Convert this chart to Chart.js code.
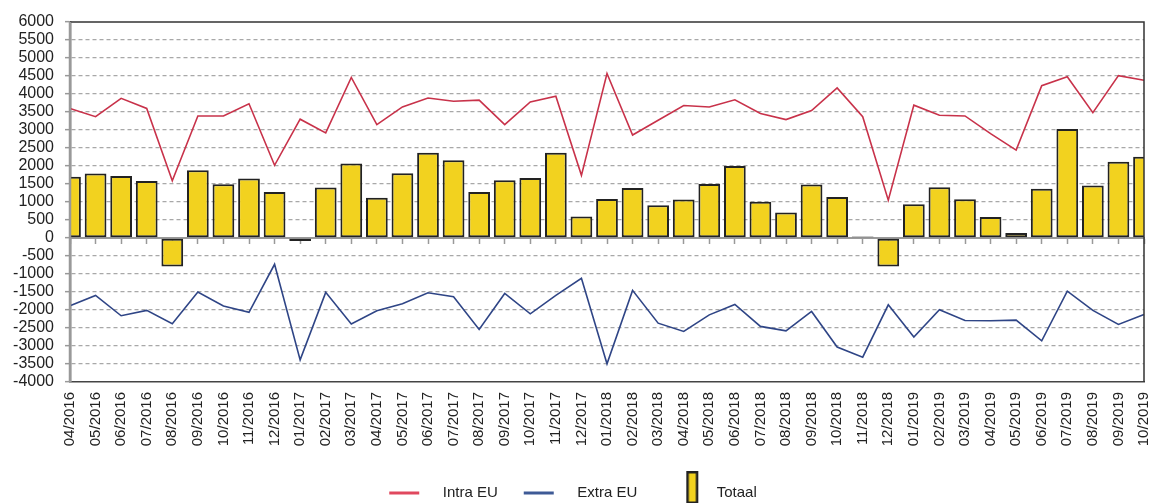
<!DOCTYPE html>
<html>
<head>
<meta charset="utf-8">
<script src="https://cdn.jsdelivr.net/npm/chart.js@4.4.0/dist/chart.umd.min.js"></script>
<style>
  html, body { margin: 0; padding: 0; background: #fff; }
</style>
</head>
<body>
<canvas id="chart" width="1154" height="503"></canvas>
<script>
// months on the x axis
const months = [
    '04/2016', '05/2016', '06/2016', '07/2016', '08/2016', '09/2016', '10/2016', '11/2016', '12/2016',
    '01/2017', '02/2017', '03/2017', '04/2017', '05/2017', '06/2017', '07/2017', '08/2017', '09/2017', '10/2017', '11/2017', '12/2017',
    '01/2018', '02/2018', '03/2018', '04/2018', '05/2018', '06/2018', '07/2018', '08/2018', '09/2018', '10/2018', '11/2018', '12/2018',
    '01/2019', '02/2019', '03/2019', '04/2019', '05/2019', '06/2019', '07/2019', '08/2019', '09/2019', '10/2019'
];

const intraEU = [
    3600, 3370, 3880, 3600, 1590, 3390, 3390, 3730, 2020,
    3300, 2920, 4460, 3150, 3640, 3890, 3800, 3830, 3150, 3780, 3940, 1740,
    4570, 2860, 3270, 3680, 3640, 3840, 3460, 3290, 3540, 4170, 3370, 1050,
    3690, 3410, 3390, 2900, 2440, 4230, 4480, 3480, 4510, 4380
];

const extraEU = [
    -1880, -1595, -2160, -2010, -2380, -1500, -1890, -2065, -730,
    -3385, -1510, -2390, -2020, -1825, -1520, -1630, -2540, -1540, -2105, -1595, -1120,
    -3495, -1455, -2365, -2595, -2135, -1845, -2455, -2580, -2040, -3030, -3310, -1855,
    -2750, -1995, -2290, -2300, -2280, -2855, -1475, -2010, -2400, -2125
];

const totaal = [
    1700, 1790, 1725, 1580, -790, 1880, 1490, 1650, 1280,
    -85, 1400, 2070, 1120, 1800, 2370, 2160, 1280, 1605, 1670, 2370, 600,
    1085, 1390, 910, 1070, 1500, 2000, 1010, 705, 1485, 1140, 40, -790,
    940, 1410, 1075, 585, 140, 1365, 3025, 1455, 2115, 2255
];

const yMin = -4000;
const yMax = 6000;
const yStep = 500;

const intraColor = '#C8324A';
const extraColor = '#2F4586';
const barColor = '#F2D21F';
const barBorder = '#222';
const fontFamily = "'Liberation Sans', Arial, sans-serif";

// small canvases used as legend symbols
function legendIcon(draw) {
    const c = document.createElement('canvas');
    c.width = 48;
    c.height = 46;
    draw(c.getContext('2d'));
    return c;
}

const lineIcon = color => legendIcon(g => {
    g.strokeStyle = color;
    g.lineWidth = 3;
    g.beginPath();
    g.moveTo(2, 23);
    g.lineTo(32, 23);
    g.stroke();
});

const boxIcon = legendIcon(g => {
    g.fillStyle = barColor;
    g.fillRect(26, 2, 10, 31);
    g.strokeStyle = barBorder;
    g.lineWidth = 2.5;
    g.strokeRect(26.25, 2.25, 9.5, 30.5);
});

const legendIcons = [lineIcon('#E0485E'), lineIcon('#3E5A96'), boxIcon];

// top / right / left frame lines of the plot area
const framePlugin = {
    id: 'frame',
    afterDatasetsDraw(chart) {
        const { ctx, chartArea: a } = chart;
        ctx.save();
        ctx.strokeStyle = '#333';
        ctx.lineWidth = 1.5;
        ctx.beginPath();
        ctx.moveTo(a.left, a.top);
        ctx.lineTo(a.right, a.top);
        ctx.lineTo(a.right, a.bottom);
        ctx.stroke();
        ctx.strokeStyle = '#999';
        ctx.lineWidth = 2.5;
        ctx.beginPath();
        ctx.moveTo(a.left, a.top);
        ctx.lineTo(a.left, a.bottom);
        ctx.stroke();
        ctx.restore();
    }
};

new Chart(document.getElementById('chart'), {
    type: 'bar',
    data: {
        labels: months,
        datasets: [{
            type: 'line',
            label: 'Intra EU',
            data: intraEU,
            borderColor: intraColor,
            backgroundColor: intraColor,
            borderWidth: 1.6,
            pointRadius: 0,
            tension: 0,
            order: 1,
            xAxisID: 'x',
            yAxisID: 'y'
        }, {
            type: 'line',
            label: 'Extra EU',
            data: extraEU,
            borderColor: extraColor,
            backgroundColor: extraColor,
            borderWidth: 1.6,
            pointRadius: 0,
            tension: 0,
            order: 2,
            xAxisID: 'x',
            yAxisID: 'y'
        }, {
            label: 'Totaal',
            data: totaal,
            backgroundColor: barColor,
            borderColor: barBorder,
            borderWidth: 2,
            borderSkipped: false,
            categoryPercentage: 1,
            barPercentage: 0.85,
            clip: 0,
            order: 3,
            xAxisID: 'x',
            yAxisID: 'y'
        }]
    },
    options: {
        responsive: false,
        animation: false,
        events: [],
        layout: {
            padding: { left: 0, top: 22, right: 10, bottom: -7.5 }
        },
        plugins: {
            tooltip: { enabled: false },
            legend: {
                position: 'bottom',
                labels: {
                    usePointStyle: true,
                    pointStyleWidth: 48,
                    padding: 24,
                    color: '#222',
                    font: { family: fontFamily, size: 15 },
                    generateLabels: chart => {
                        const items = Chart.defaults.plugins.legend.labels.generateLabels(chart);
                        items.forEach(item => { item.pointStyle = legendIcons[item.datasetIndex]; });
                        return items;
                    }
                }
            }
        },
        scales: {
            x: {
                type: 'category',
                position: 'bottom',
                offset: false,
                grid: { display: true, drawOnChartArea: false, drawTicks: false, offset: false },
                border: { color: '#444', width: 1.5 },
                ticks: {
                    autoSkip: false,
                    minRotation: 90,
                    maxRotation: 90,
                    padding: 10,
                    color: '#222',
                    font: { family: fontFamily, size: 15 }
                },
                afterFit: s => {
                    s.height = 79.5;
                    s.paddingLeft = 0;
                    s.paddingRight = 0;
                }
            },
            x0: {
                type: 'category',
                position: { y: 0 },
                offset: false,
                grid: {
                    drawOnChartArea: false,
                    offset: false,
                    tickLength: 5,
                    tickColor: '#999',
                    tickWidth: 1.5
                },
                border: { color: '#999', width: 2 },
                ticks: { display: false, autoSkip: false },
                afterFit: s => {
                    s.paddingLeft = 0;
                    s.paddingRight = 0;
                },
                z: 1
            },
            y: {
                min: yMin,
                max: yMax,
                grid: {
                    color: c => [yMax, 0, yMin].includes(c.tick.value) ? 'rgba(0,0,0,0)' : '#a8a8a8',
                    lineWidth: 1.3,
                    tickLength: 5,
                    tickColor: '#999',
                    tickWidth: 1.5
                },
                border: { color: '#999', width: 2.5, dash: [4, 3] },
                ticks: {
                    stepSize: yStep,
                    autoSkip: false,
                    padding: 11,
                    color: '#222',
                    font: { family: fontFamily, size: 16 },
                    callback: v => String(v)
                },
                afterFit: s => { s.width = 70; }
            }
        }
    },
    plugins: [framePlugin]
});
</script>
</body>
</html>
